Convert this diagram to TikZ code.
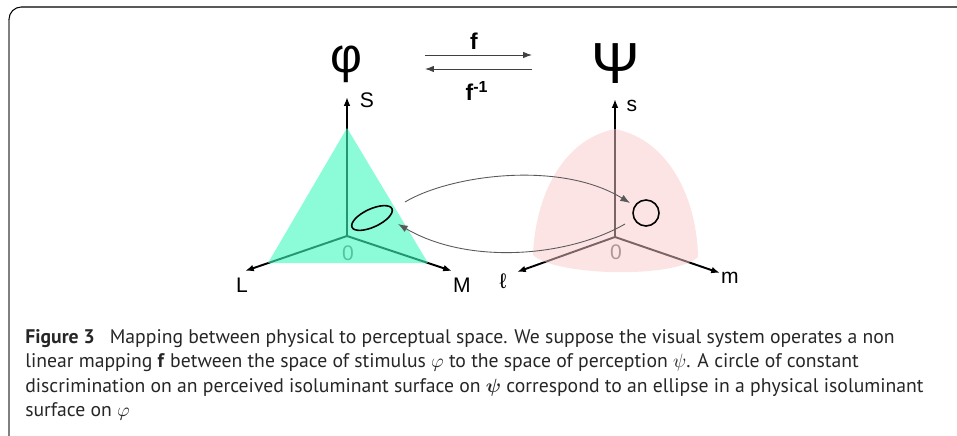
\documentclass[tikz,border=0pt]{standalone}
\usepackage{amsmath,amssymb,bm}
\usepackage{fontspec}
\usepackage{xcolor}
\usetikzlibrary{arrows.meta,shapes.geometric}
\newfontfamily\arialfont{Liberation Sans}
\newfontfamily\capfont{PT Sans}
\definecolor{coneteal}{RGB}{63,250,190}
\definecolor{spherepink}{RGB}{251,201,201}

\begin{document}
\begin{tikzpicture}[x=0.02cm,y=-0.02cm,
  axis/.style={line width=1.1pt,-{Latex[length=5pt,width=3.8pt]}},
  lbl/.style={font=\arialfont\fontsize{12}{14}\selectfont,inner sep=0pt},
  funarrow/.style={black!75,line width=0.5pt,-{Latex[length=5pt,width=3.6pt]}},
  maparrow/.style={black!65,line width=0.5pt,-{Latex[length=5.5pt,width=4pt]}}]
\useasboundingbox (0,0) rectangle (957,436);
\draw[rounded corners=7,line width=0.6pt] (9,40) -- (9,7) -- (957,7);
\draw[gray,line width=0.6pt] (9,436) -- (9,20);
\node[font=\arialfont\fontsize{28}{30}\selectfont] (phi) at (346,64) {φ};
\node[font=\arialfont\fontsize{33}{36}\selectfont] (psi) at (616,64) {Ψ};
\coordinate (fa) at (425,55);
\coordinate (fb) at (532,55);
\coordinate (ga) at (532,69);
\coordinate (gb) at (425,69);
\draw[funarrow] (fa) -- (fb);
\draw[funarrow] (ga) -- (gb);
\node[anchor=base,font=\arialfont\bfseries\fontsize{13}{15}\selectfont] (fwd) at (474,50) {f};
\node[anchor=base,font=\arialfont\bfseries\fontsize{13}{15}\selectfont] (inv) at (477,100) {f\textsuperscript{-1}};
\coordinate (O1) at (347,236);
\coordinate (A1) at (347,128);
\coordinate (L1) at (268,263);
\coordinate (M1) at (428,263);
\coordinate (Stip) at (347,97);
\coordinate (Ltip) at (245,271);
\coordinate (Mtip) at (452,271);
\draw[axis] (O1) -- (Stip);
\draw[axis] (O1) -- (Ltip);
\draw[axis] (O1) -- (Mtip);
\node[lbl,text=black!55] (zero1) at (348,253) {0};
\fill[coneteal,opacity=0.6] (A1) -- (L1) -- (M1) -- cycle;
\node[lbl] (Slab) at (367,100) {S};
\node[lbl] (Llab) at (242,285) {L};
\node[lbl] (Mlab) at (462,285) {M};
\coordinate (O2) at (615,237);
\coordinate (T2) at (615,129);
\coordinate (P2) at (533,255);
\coordinate (Q2) at (698,257);
\coordinate (stip) at (615,99);
\coordinate (ltip) at (517,272);
\coordinate (mtip) at (720,273);
\draw[axis] (O2) -- (stip);
\draw[axis] (O2) -- (ltip);
\draw[axis] (O2) -- (mtip);
\node[lbl,text=black!60] (zero2) at (616,252) {0};
\fill[spherepink,opacity=0.5] (T2) .. controls (560,140) and (535,200) .. (P2)
  .. controls (555,276) and (675,279) .. (Q2)
  .. controls (697,200) and (670,140) .. (T2) -- cycle;
\node[lbl] (slab) at (632,106) {s};
\node[lbl] (llab) at (503,281) {ℓ};
\node[lbl] (mlab) at (730,278) {m};
\node[draw,ellipse,line width=0.9pt,minimum width=0.88cm,minimum height=0.36cm,inner sep=0pt,rotate=25] (disc) at (372,218) {};
\node[draw,circle,line width=0.9pt,minimum size=0.52cm,inner sep=0pt] (ring) at (646,213) {};
\coordinate (fstart) at (405,202);
\coordinate (fend) at (630,203);
\coordinate (gstart) at (625,224);
\coordinate (gend) at (398,224);
\draw[maparrow] (fstart) .. controls (450,175) and (560,160) .. (fend);
\draw[maparrow] (gstart) .. controls (570,256) and (470,266) .. (gend);
\node[anchor=north west,inner sep=0pt,align=left,text=black!85,
  font=\capfont\fontsize{11.2}{13.9}\selectfont] (caption) at (25,329)
  {\textbf{Figure 3}\hspace{0.5em} Mapping between physical to perceptual space. We suppose the visual system operates a non\\
  linear mapping \textbf{f} between the space of stimulus $\varphi$ to the space of perception $\psi$. A circle of constant\\
  discrimination on an perceived isoluminant surface on $\bm{\psi}$ correspond to an ellipse in a physical isoluminant\\
  surface on $\varphi$};
\end{tikzpicture}
\end{document}
